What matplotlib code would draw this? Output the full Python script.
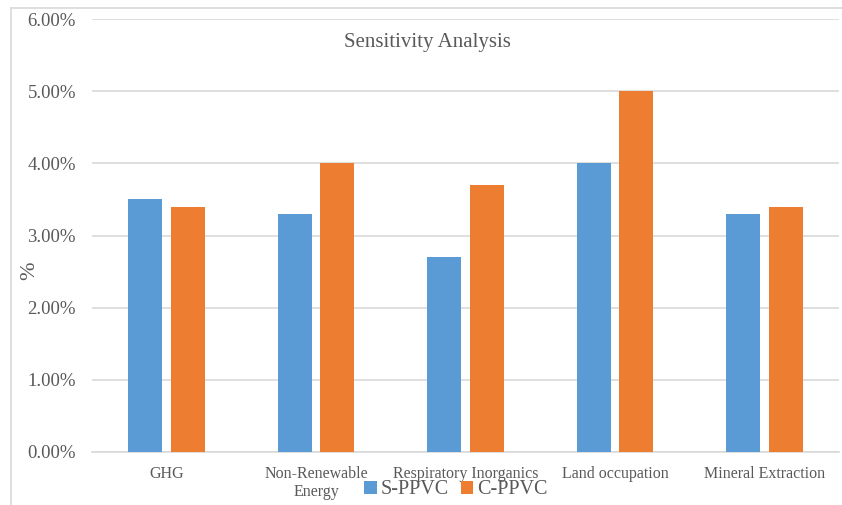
import numpy as np
import matplotlib.pyplot as plt
from matplotlib.lines import Line2D
from matplotlib.ticker import FuncFormatter

# data (percent)
categories = ['GHG', 'Non-Renewable\nEnergy', 'Respiratory Inorganics', 'Land occupation', 'Mineral Extraction']
s_ppvc = [3.5, 3.3, 2.7, 4.0, 3.3]
c_ppvc = [3.4, 4.0, 3.7, 5.0, 3.4]
yticks = [0, 1, 2, 3, 4, 5, 6]

plt.rcParams['font.family'] = ['Liberation Serif', 'DejaVu Serif']
txt = '#595959'
grid = '#d9d9d9'

fig = plt.figure(figsize=(8.42, 5.05), dpi=100)
ax = fig.add_axes([92/842, 1-452/505, (839-92)/842, (452-19)/505])

x = np.arange(len(categories))
w = 0.228
off = 0.143
ax.bar(x - off, s_ppvc, w, color='#5B9BD5', label='S-PPVC', zorder=3)
ax.bar(x + off, c_ppvc, w, color='#ED7D31', label='C-PPVC', zorder=3)

ax.set_xlim(-0.5, len(categories) - 0.5)
ax.set_ylim(0, 6)
ax.set_yticks(yticks)
ax.yaxis.set_major_formatter(FuncFormatter(lambda v, p: f'{v:.2f}%'))
ax.set_xticks(x)
ax.set_xticklabels(categories, fontsize=11.5, color=txt, linespacing=1.2)
ax.tick_params(axis='y', length=0, pad=11.5, labelsize=13.5, labelcolor=txt)
ax.tick_params(axis='x', length=0, pad=10)
ax.grid(axis='y', color=grid, lw=1.2, zorder=0)
for s in ['top', 'right', 'left']:
    ax.spines[s].set_visible(False)
ax.spines['bottom'].set_color(grid)
ax.spines['bottom'].set_linewidth(1.2)

fig.text(30/842, 1-271/505, '%', fontsize=16, color=txt, rotation=90, ha='center', va='center')
fig.text(427/842, 1-42/505, 'Sensitivity Analysis', fontsize=15, color=txt, ha='center', va='center')

fig.legend(loc='center', bbox_to_anchor=(456/842, 1-490/505), ncol=2, frameon=False,
           fontsize=14.5, labelcolor=txt, handlelength=0.6, handleheight=0.6,
           handletextpad=0.2, columnspacing=0.6, borderpad=0)

# chart border (left and top edges visible)
fig.add_artist(Line2D([11/842, 11/842], [0, 1-8/505], color=grid, lw=1.2))
fig.add_artist(Line2D([11/842, 1], [1-8/505, 1-8/505], color=grid, lw=1.2))

fig.savefig('out.png', dpi=100)
